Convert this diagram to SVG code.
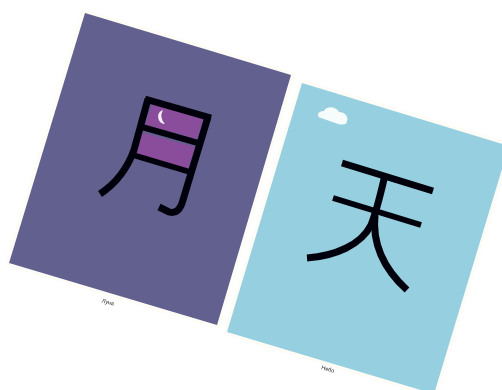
<svg xmlns="http://www.w3.org/2000/svg" width="502" height="390" viewBox="0 0 502 390">
<style>
.s{fill:none;stroke:#060408;stroke-width:7;stroke-linejoin:miter}
.n{stroke-width:6}
.h{fill:#fdfcf6;stroke:#fdfcf6;stroke-width:7;stroke-linejoin:round}
.t{font-family:"Liberation Sans",Arial,sans-serif;font-size:5.5px;fill:#222}
</style>
<defs><filter id="b" x="-5%" y="-5%" width="110%" height="110%"><feGaussianBlur stdDeviation="0.45"/></filter></defs>
<rect width="502" height="390" fill="#fff"/>
<g id="moon-card" filter="url(#b)">
<polygon class="h" points="85,13 291,75 217,325 9,263"/>
<polygon points="85,13 291,75 217,325 9,263" fill="#62608f"/>
<polygon points="152,104 203,119 197,139 145,125" fill="#8a4d9c"/>
<polygon points="140,132 195,147 188,169 133,154" fill="#8a4d9c"/>
<path d="M163,110 A7.200,7.200 0 0 0 165,124 A11,11 0 0 1 163,110Z" fill="#f5f2f7"/>
<path class="s" d="M145,99 L211,118"/>
<path class="s" d="M148,99 L134,150 Q124,178 100,194"/>
<path class="s" d="M208,117 L183,200 Q179,215 169,212 L159,207"/>
<path class="s n" d="M142,127 L198,143"/>
<path class="s n" d="M133,155 L190,172"/>
<text class="t" x="108" y="304" text-anchor="middle" transform="rotate(16.500 108 302)">Луна</text>
</g>
<g id="sky-card" filter="url(#b)">
<polygon class="h" points="302,83 509,146 434,394 227,332"/>
<polygon points="302,83 509,146 434,394 227,332" fill="#96cfdf"/>
<path d="M321,118 C316,117 317,111 324,111 C326,106 336,106 339,112 C345,112 349,117 347,121 C347,125 342,125 338,124Z" fill="#f6fbfc"/>
<path class="s" d="M342,163 L433,191"/>
<path class="s n" d="M333,198 L421,225"/>
<path class="s" d="M385,175 C381,192 377,210 371,225 C361,245 335,256 307,258"/>
<path class="s" d="M375,215 C372,245 385,270 407,290"/>
<text class="t" x="328" y="371" text-anchor="middle" transform="rotate(16.500 328 369)">Небо</text>
</g>
</svg>
